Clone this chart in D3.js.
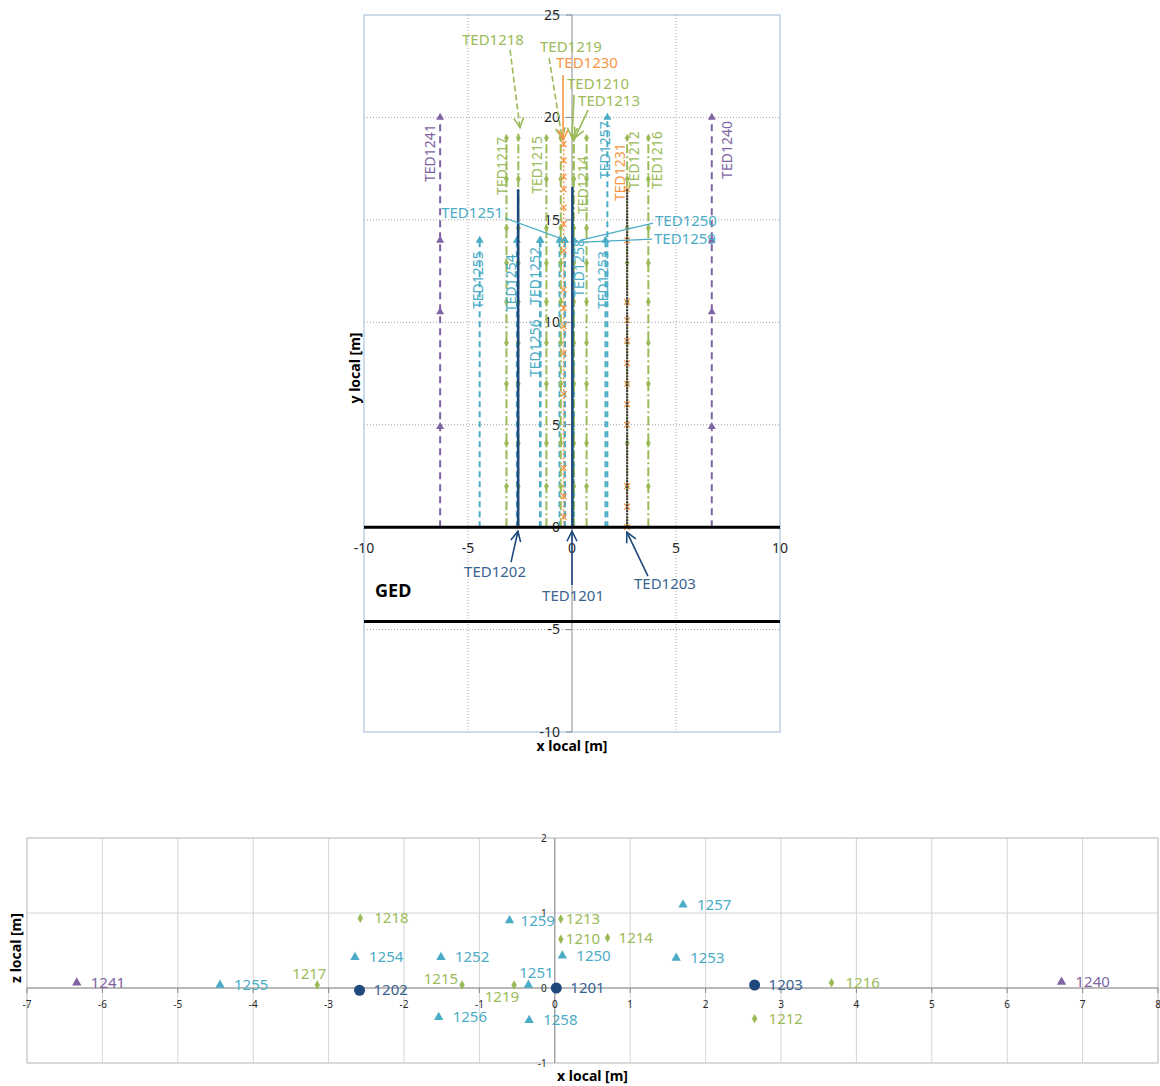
<!DOCTYPE html>
<html><head><meta charset="utf-8">
<script src="https://cdn.jsdelivr.net/npm/d3@7"></script>
<style>
body{margin:0;background:#fff}
svg{display:block;font-family:"Noto Sans",sans-serif}
</style>
</head><body>
<svg id="c" width="1160" height="1086"></svg>
<script>
// ---------------- DATA ----------------
const ids    = ["1201","1202","1203","1210","1212","1213","1214","1215","1216","1217","1218","1219","1230","1231","1240","1241","1250","1251","1252","1253","1254","1255","1256","1257","1258","1259"];
const groups = ["B","B","B","G","G","G","G","G","G","G","G","G","O","O","P","P","C","C","C","C","C","C","C","C","C","C"];
const xLocal = [0.02,-2.59,2.65,0.08,2.65,0.08,0.70,-1.23,3.67,-3.15,-2.58,-0.54,-0.40,2.65,6.72,-6.34,0.10,-0.35,-1.51,1.61,-2.65,-4.44,-1.54,1.70,-0.34,-0.60];
const zLocal = [0.00,-0.03,0.04,0.65,-0.41,0.92,0.67,0.04,0.07,0.04,0.93,0.04,null,null,0.08,0.07,0.43,0.04,0.41,0.40,0.41,0.04,-0.39,1.11,-0.43,0.90];
const yTopEnd= [16.6,16.5,16.5,19,19,19,19,19,19,19,19.2,19,19,16.5,20,20,14,14,14,14,14,14,14,20,14,14];

const greenMarkerY  = [19,17,14.6,12.9,11,9,7,4.1,2];
const purpleMarkerY = [20,14,10.5,4.9];
const orangeMarkerY = {
  "1230":[18.7,17.9,17.1,16.5,15.6,14.8,13.5,11.6,10.7,9.8,8.5,6.5,2.9,1.5,0.5],
  "1231":[16.5,14,11,10.1,9.1,8,7,6,5,2,1,0]
};
const gedBounds = [0,-4.6];

const topXTicks = [-10,-5,0,5,10];
const topYTicks = [-10,-5,0,5,10,15,20,25];
const botXTicks = [-7,-6,-5,-4,-3,-2,-1,0,1,2,3,4,5,6,7,8];
const botYTicks = [-1,0,1,2];

const rows = ids.map((id,i)=>({id, g:groups[i], x:xLocal[i], z:zLocal[i], top:yTopEnd[i]}));

// ---------------- STYLE / LAYOUT ----------------
const col = {B:"#1f497d",G:"#9bbb59",C:"#4bacc6",P:"#8064a2",O:"#f79646"};
const txtCol = {B:"#3a6391",G:"#9bbb59",C:"#4bacc6",P:"#8064a2",O:"#f79646"};
const lineStyle = {
  B:{dash:null,w:2.6},
  G:{dash:"9,3,2,3",w:2},
  C:{dash:"6,4",w:2},
  P:{dash:"7,5",w:2},
  O:{dash:"2,2",w:1.5}
};

const svg = d3.select("#c");
const defs = svg.append("defs");
Object.entries(col).forEach(([k,c])=>{
  defs.append("marker").attr("id","ah"+k).attr("viewBox","0 0 12 12")
    .attr("refX",11).attr("refY",6).attr("markerWidth",12).attr("markerHeight",12)
    .attr("markerUnits","userSpaceOnUse").attr("orient","auto")
    .append("path").attr("d","M1,1 L11,6 L1,11").attr("fill","none").attr("stroke",c).attr("stroke-width",1.6);
});

// ================= TOP CHART =================
const xT = d3.scaleLinear().domain([-10,10]).range([364,780]);
const yT = d3.scaleLinear().domain([-10,25]).range([732,15]);
const gTop = svg.append("g");

gTop.append("g").selectAll("line").data([-5,5]).join("line")
  .attr("x1",d=>xT(d)).attr("x2",d=>xT(d)).attr("y1",yT(25)).attr("y2",yT(-10))
  .attr("stroke","#a6a6a6").attr("stroke-width",1).attr("stroke-dasharray","1,2");
gTop.append("g").selectAll("line").data([20,15,10,5,-5]).join("line")
  .attr("x1",xT(-10)).attr("x2",xT(10)).attr("y1",d=>yT(d)).attr("y2",d=>yT(d))
  .attr("stroke","#a6a6a6").attr("stroke-width",1).attr("stroke-dasharray","1,2");
gTop.append("rect").attr("x",xT(-10)).attr("y",yT(25)).attr("width",xT(10)-xT(-10)).attr("height",yT(-10)-yT(25))
  .attr("fill","none").attr("stroke","#a9c4da").attr("stroke-width",1.2);
gTop.append("line").attr("x1",xT(0)).attr("x2",xT(0)).attr("y1",yT(25)).attr("y2",yT(-10))
  .attr("stroke","#8a8a8a").attr("stroke-width",1);
gTop.append("g").selectAll("line").data(topYTicks).join("line")
  .attr("x1",xT(0)-6).attr("x2",xT(0)).attr("y1",d=>yT(d)).attr("y2",d=>yT(d))
  .attr("stroke","#8a8a8a");
gTop.append("g").selectAll("text").data(topYTicks).join("text")
  .attr("x",xT(0)-12).attr("y",d=>yT(d)).attr("dy","0.35em").attr("text-anchor","end")
  .attr("font-size",14).attr("fill","#262626").text(d=>d);
gTop.append("g").selectAll("text").data(topXTicks).join("text")
  .attr("x",d=>xT(d)).attr("y",yT(0)+21).attr("dy","0.35em").attr("text-anchor","middle")
  .attr("font-size",14).attr("fill","#262626").text(d=>d);

const drawOrder = ["P","C","G","O","B"];
drawOrder.forEach(g=>{
  rows.filter(r=>r.g===g).forEach(r=>{
    let c = col[g], dash = lineStyle[g].dash, w = lineStyle[g].w;
    if (r.id==="1203"){ c="#333a44"; dash="2,1"; w=2.2; }
    gTop.append("line").attr("x1",xT(r.x)).attr("x2",xT(r.x)).attr("y1",yT(0)).attr("y2",yT(r.top))
      .attr("stroke",c).attr("stroke-width",w).attr("stroke-dasharray",dash);
    let ys=[];
    if (g==="G") ys = greenMarkerY.filter(v=>v<=r.top);
    if (g==="P") ys = purpleMarkerY;
    if (g==="C") ys = [r.top];
    if (g==="O") ys = orangeMarkerY[r.id];
    const sym = g==="G"?d3.symbolDiamond:(g==="O"?d3.symbolX:d3.symbolTriangle);
    const sz = g==="G"?20:(g==="O"?24:28);
    gTop.append("g").selectAll("path").data(ys).join("path")
      .attr("transform",v=>`translate(${xT(r.x)},${yT(v)})`)
      .attr("d",d3.symbol().type(sym).size(sz))
      .attr("fill",g==="O"?"none":col[g]).attr("stroke",g==="O"?col[g]:"none").attr("stroke-width",1.2);
  });
});

gTop.append("g").selectAll("line").data(gedBounds).join("line")
  .attr("x1",xT(-10)).attr("x2",xT(10)).attr("y1",d=>yT(d)).attr("y2",d=>yT(d))
  .attr("stroke","#000").attr("stroke-width",3);
gTop.append("text").attr("x",xT(-9.47)).attr("y",yT(-3.08)).attr("dy","0.35em")
  .attr("font-size",18).attr("font-weight","bold").attr("fill","#000").text("GED");

const vLabels = [
  ["1241",-6.83,18.26],["1240",7.45,18.41],["1217",-3.37,17.63],["1215",-1.68,17.68],
  ["1214",0.53,16.7],["1257",1.59,18.4],["1231",2.31,17.33],["1212",2.98,17.92],
  ["1216",4.09,17.92],["1255",-4.52,12.06],["1254",-2.93,11.91],["1252",-1.78,12.26],
  ["1256",-1.78,8.74],["1258",0.34,12.65],["1253",1.49,12.06]
];
vLabels.forEach(([id,x,y])=>{
  const g = groups[ids.indexOf(id)];
  gTop.append("text").attr("transform",`translate(${xT(x)},${yT(y)}) rotate(-90)`)
    .attr("dy","0.35em").attr("text-anchor","middle").attr("font-size",14)
    .attr("fill",txtCol[g]).text("TED"+id);
});

const pLabels = [
  {id:"1218",lx:-3.8,ly:23.8,x1:-2.98,y1:23.3,x2:-2.5,y2:19.5,dash:"6,3",head:true},
  {id:"1219",lx:-0.05,ly:23.44,x1:-1.1,y1:22.9,x2:-0.48,y2:19.0,dash:"6,3",head:true},
  {id:"1230",lx:0.72,ly:22.66,x1:-0.43,y1:22.07,x2:-0.43,y2:18.9,dash:null,head:true},
  {id:"1210",lx:1.25,ly:21.63,x1:0.1,y1:21.1,x2:0.0,y2:19.0,dash:null,head:true},
  {id:"1213",lx:1.78,ly:20.8,x1:0.77,y1:20.36,x2:0.14,y2:19.0,dash:null,head:true},
  {id:"1251",lx:-4.8,ly:15.33,x1:-3.22,y1:15.09,x2:-0.29,y2:14.0,dash:null,head:false},
  {id:"1250",lx:5.48,ly:14.94,x1:3.9,y1:14.84,x2:0.38,y2:14.0,dash:null,head:false},
  {id:"1259",lx:5.43,ly:14.1,x1:3.85,y1:14.06,x2:0.29,y2:13.9,dash:null,head:false},
  {id:"1202",lx:-3.7,ly:-2.2,x1:-2.93,y1:-1.71,x2:-2.6,y2:-0.2,dash:null,head:true},
  {id:"1201",lx:0.05,ly:-3.37,x1:0,y1:-2.83,x2:0,y2:-0.2,dash:null,head:true},
  {id:"1203",lx:4.47,ly:-2.78,x1:3.65,y1:-2.39,x2:2.64,y2:-0.24,dash:null,head:true}
];
pLabels.forEach(p=>{
  const g = groups[ids.indexOf(p.id)];
  const c = g==="B"?"#1f497d":col[g];
  gTop.append("line").attr("x1",xT(p.x1)).attr("y1",yT(p.y1)).attr("x2",xT(p.x2)).attr("y2",yT(p.y2))
    .attr("stroke",c).attr("stroke-width",g==="C"?1.2:1.6).attr("stroke-dasharray",p.dash)
    .attr("marker-end",p.head?`url(#ah${g})`:null);
  gTop.append("text").attr("x",xT(p.lx)).attr("y",yT(p.ly)).attr("dy","0.35em")
    .attr("text-anchor","middle").attr("font-size",15).attr("fill",txtCol[g]).text("TED"+p.id);
});

gTop.append("text").attr("x",(xT(-10)+xT(10))/2).attr("y",746).attr("dy","0.35em").attr("text-anchor","middle")
  .attr("font-size",14).attr("font-weight","bold").attr("fill","#000").text("x local [m]");
gTop.append("text").attr("transform",`translate(355,368) rotate(-90)`).attr("dy","0.35em").attr("text-anchor","middle")
  .attr("font-size",14).attr("font-weight","bold").attr("fill","#000").text("y local [m]");

// ================= BOTTOM CHART =================
const xB = d3.scaleLinear().domain([-7,8]).range([27,1158]);
const yB = d3.scaleLinear().domain([-1,2]).range([1063,838]);
const gBot = svg.append("g");
gBot.append("g").selectAll("line").data(botXTicks).join("line")
  .attr("x1",d=>xB(d)).attr("x2",d=>xB(d)).attr("y1",yB(2)).attr("y2",yB(-1))
  .attr("stroke","#d4d4d4").attr("stroke-width",1);
gBot.append("g").selectAll("line").data(botYTicks).join("line")
  .attr("x1",xB(-7)).attr("x2",xB(8)).attr("y1",d=>yB(d)).attr("y2",d=>yB(d))
  .attr("stroke","#d4d4d4").attr("stroke-width",1);
gBot.append("rect").attr("x",xB(-7)).attr("y",yB(2)).attr("width",xB(8)-xB(-7)).attr("height",yB(-1)-yB(2))
  .attr("fill","none").attr("stroke","#c8c8c8");
gBot.append("line").attr("x1",xB(-7)).attr("x2",xB(8)).attr("y1",yB(0)).attr("y2",yB(0)).attr("stroke","#8a8a8a");
gBot.append("line").attr("x1",xB(0)).attr("x2",xB(0)).attr("y1",yB(2)).attr("y2",yB(-1)).attr("stroke","#8a8a8a");
gBot.append("g").selectAll("line").data(botXTicks).join("line")
  .attr("x1",d=>xB(d)).attr("x2",d=>xB(d)).attr("y1",yB(0)).attr("y2",yB(0)+5).attr("stroke","#8a8a8a");
gBot.append("g").selectAll("text").data(botXTicks).join("text")
  .attr("x",d=>xB(d)).attr("y",yB(0)+16).attr("dy","0.35em").attr("text-anchor","middle")
  .attr("font-size",10).attr("fill","#262626").text(d=>d);
gBot.append("g").selectAll("text").data(botYTicks).join("text")
  .attr("x",xB(0)-8).attr("y",d=>yB(d)).attr("dy","0.35em").attr("text-anchor","end")
  .attr("font-size",10).attr("fill","#262626").text(d=>d);

const labelPos = {
  "1217":{dx:-8,dy:-6,a:"middle"},
  "1215":{dx:-4,dy:-1,a:"end"},
  "1219":{dx:5,dy:17,a:"end"},
  "1251":{dx:8,dy:-7,a:"middle"},
  "1213":{dx:5,dy:5,a:"start"},
  "1210":{dx:5,dy:5,a:"start"},
  "1214":{dx:11,dy:5,a:"start"},
  "1259":{dx:11,dy:5,a:"start"}
};
rows.filter(r=>r.z!==null).forEach(r=>{
  const px = xB(r.x), py = yB(r.z);
  if (r.g==="B"){
    gBot.append("circle").attr("cx",px).attr("cy",py).attr("r",5.5).attr("fill",col.B);
  } else {
    const sym = r.g==="G"?d3.symbolDiamond:d3.symbolTriangle;
    gBot.append("path").attr("transform",`translate(${px},${py})`)
      .attr("d",d3.symbol().type(sym).size(r.g==="G"?26:38)).attr("fill",col[r.g]);
  }
  const lp = labelPos[r.id] || {dx:14,dy:5,a:"start"};
  gBot.append("text").attr("x",px+lp.dx).attr("y",py+lp.dy).attr("text-anchor",lp.a)
    .attr("font-size",15).attr("fill",txtCol[r.g]).text(r.id);
});
gBot.append("text").attr("x",(xB(-7)+xB(8))/2).attr("y",1076).attr("dy","0.35em").attr("text-anchor","middle")
  .attr("font-size",14).attr("font-weight","bold").attr("fill","#000").text("x local [m]");
gBot.append("text").attr("transform",`translate(16,948) rotate(-90)`).attr("dy","0.35em").attr("text-anchor","middle")
  .attr("font-size",14).attr("font-weight","bold").attr("fill","#000").text("z local [m]");
</script>
</body></html>
